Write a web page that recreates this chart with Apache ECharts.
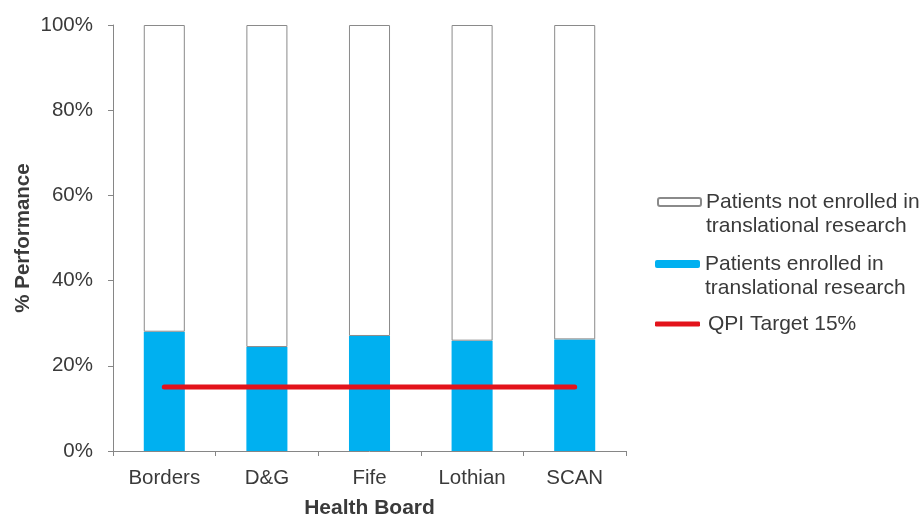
<!DOCTYPE html>
<html>
<head>
<meta charset="utf-8">
<script src="https://cdn.jsdelivr.net/npm/echarts@6/dist/echarts.min.js"></script>
<style>
  html, body { margin: 0; padding: 0; background: #fff; }
  #chart { width: 921px; height: 515px; }
</style>
</head>
<body>
<div id="chart"></div>
<script>
// Health boards along the x axis
const boards = ['Borders', 'D&G', 'Fife', 'Lothian', 'SCAN'];
// Share of patients enrolled in translational research (%)
const enrolled = [28.0, 24.4, 27.0, 25.9, 26.2];
// Remaining share not enrolled (%)
const notEnrolled = [72.0, 75.6, 73.0, 74.1, 73.8];
// QPI target level (%)
const target = [15, 15, 15, 15, 15];
// Value axis ticks
const yTicks = [0, 20, 40, 60, 80, 100];

const FONT = '"Liberation Sans", Arial, sans-serif';
const TEXT = '#3a3a3a';
const AXIS = '#868686';
const LEG_FONT = 21;
const LINE_H = 24;

const NAME_NOT = 'Patients not enrolled in translational research';
const NAME_IN = 'Patients enrolled in translational research';
const NAME_QPI = 'QPI Target 15%';

const chart = echarts.init(document.getElementById('chart'), null, { renderer: 'canvas' });

// One legend block per series; two-line labels get a blank leading line so
// the swatch lines up with the first line of text.
function legendFor(name, top, opts) {
  return Object.assign({
    orient: 'vertical',
    left: 657,
    top: top,
    padding: 0,
    itemWidth: 43,
    itemHeight: 8,
    itemGap: 0,
    selectedMode: false,
    data: [name],
    textStyle: { fontFamily: FONT, fontSize: LEG_FONT, color: TEXT, lineHeight: LINE_H }
  }, opts || {});
}

const option = {
  animation: false,
  backgroundColor: '#ffffff',
  grid: {
    left: 113, right: 295, top: 25, bottom: 64,
    containLabel: false,
    outerBoundsMode: 'none'
  },
  legend: [
    legendFor(NAME_NOT, 202 - 1.5 * LINE_H, {
      formatter: () => '\nPatients not enrolled in\ntranslational research'
    }),
    legendFor(NAME_IN, 264 - 1.5 * LINE_H, {
      formatter: () => '\nPatients enrolled in\ntranslational research',
      itemWidth: 45, left: 655
    }),
    legendFor(NAME_QPI, 324 - 0.5 * LINE_H, {
      itemHeight: 5, itemWidth: 45, left: 655, icon: 'roundRect',
      textStyle: { fontFamily: FONT, fontSize: LEG_FONT, color: TEXT, lineHeight: LINE_H, padding: [0, 0, 0, 3] }
    })
  ],
  xAxis: {
    type: 'category',
    data: boards,
    name: 'Health Board',
    nameLocation: 'middle',
    nameGap: 47,
    nameMoveOverlap: false,
    nameTextStyle: { fontFamily: FONT, fontSize: 21, fontWeight: 'bold', color: TEXT },
    axisLine: { lineStyle: { color: AXIS, width: 1 } },
    axisTick: { show: true, alignWithLabel: false, length: 5, lineStyle: { color: AXIS } },
    axisLabel: { fontFamily: FONT, fontSize: 20.5, color: TEXT, margin: 17 },
    splitLine: { show: false }
  },
  yAxis: {
    type: 'value',
    min: yTicks[0],
    max: yTicks[yTicks.length - 1],
    interval: yTicks[1] - yTicks[0],
    name: '% Performance',
    nameLocation: 'middle',
    nameGap: 79,
    nameMoveOverlap: false,
    nameTextStyle: { fontFamily: FONT, fontSize: 20.5, fontWeight: 'bold', color: TEXT },
    axisLine: { show: true, lineStyle: { color: AXIS, width: 1 } },
    axisTick: { show: true, length: 5, lineStyle: { color: AXIS } },
    axisLabel: { fontFamily: FONT, fontSize: 20.5, color: TEXT, margin: 20, formatter: v => v + '%' },
    splitLine: { show: false }
  },
  series: [
    {
      name: NAME_IN,
      type: 'bar',
      stack: 'share',
      barWidth: '40%',
      data: enrolled,
      itemStyle: { color: '#00B0F0', borderWidth: 0 }
    },
    {
      name: NAME_NOT,
      type: 'bar',
      stack: 'share',
      barWidth: '40%',
      data: notEnrolled,
      itemStyle: { color: '#ffffff', borderColor: '#8a8a8a', borderWidth: 1 }
    },
    {
      name: NAME_QPI,
      type: 'line',
      data: target,
      symbol: 'none',
      z: 5,
      lineStyle: { color: '#E3131B', width: 5, cap: 'round' },
      itemStyle: { color: '#E3131B' }
    }
  ]
};

chart.setOption(option);
</script>
</body>
</html>
